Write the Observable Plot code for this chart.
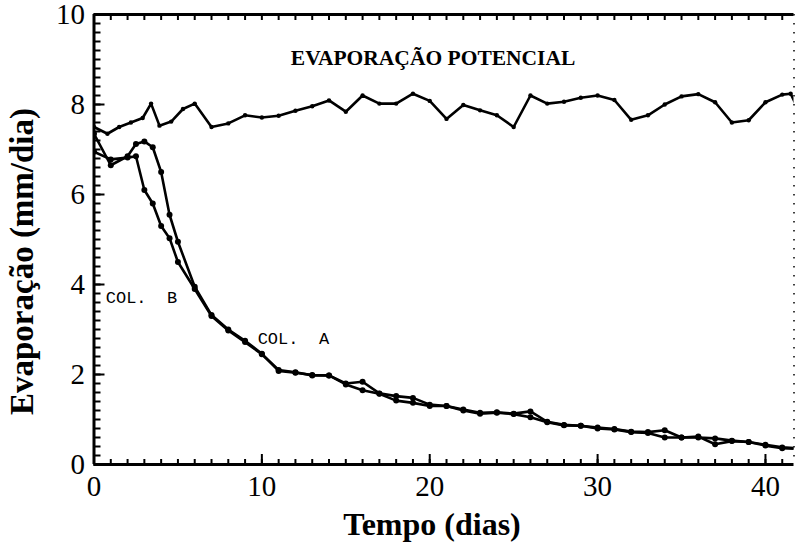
<!DOCTYPE html>
<html>
<head>
<meta charset="utf-8">
<script src="https://cdn.jsdelivr.net/npm/d3@7"></script>
<script src="https://cdn.jsdelivr.net/npm/@observablehq/plot@0.6"></script>
<style>
  body { margin: 0; background: #fff; }
  svg { display: block; }
</style>
</head>
<body>
<div id="chart"></div>
<script>
// Evaporação potencial (mm/dia) ao longo do tempo
const potDia  = [0, 0.8, 1.5, 2.2, 2.9, 3.4, 3.9, 4.6, 5.3, 6.0, 7.0, 8.0, 9.0, 10.0, 11.0, 12.0, 13.0, 14.0, 15.0, 16.0, 17.0, 18.0, 19.0, 20.0, 21.0, 22.0, 23.0, 24.0, 25.0, 26.0, 27.0, 28.0, 29.0, 30.0, 31.0, 32.0, 33.0, 34.0, 35.0, 36.0, 37.0, 38.0, 39.0, 40.0, 41.0, 41.5, 42.0];
const potEvap = [7.5, 7.35, 7.5, 7.6, 7.7, 8.02, 7.53, 7.62, 7.9, 8.02, 7.5, 7.58, 7.76, 7.71, 7.75, 7.86, 7.96, 8.09, 7.84, 8.2, 8.02, 8.02, 8.24, 8.08, 7.68, 7.99, 7.87, 7.76, 7.5, 8.2, 8.02, 8.06, 8.15, 8.2, 8.1, 7.66, 7.76, 8.0, 8.18, 8.23, 8.05, 7.6, 7.65, 8.05, 8.22, 8.24, 7.85];

// Coluna A
const colADia  = [0, 1, 2, 2.5, 3, 3.5, 4, 4.5, 5, 6, 7, 8, 9, 10, 11, 12, 13, 14, 15, 16, 17, 18, 19, 20, 21, 22, 23, 24, 25, 26, 27, 28, 29, 30, 31, 32, 33, 34, 35, 36, 37, 38, 39, 40, 41, 42];
const colAEvap = [7.35, 6.65, 6.85, 7.12, 7.18, 7.05, 6.5, 5.55, 4.95, 3.95, 3.32, 3.0, 2.75, 2.46, 2.08, 2.04, 1.99, 1.98, 1.8, 1.84, 1.58, 1.52, 1.48, 1.33, 1.3, 1.22, 1.15, 1.16, 1.13, 1.18, 0.95, 0.88, 0.86, 0.82, 0.79, 0.73, 0.72, 0.76, 0.6, 0.6, 0.58, 0.53, 0.5, 0.44, 0.38, 0.36];

// Coluna B
const colBDia  = [0, 1, 2, 2.5, 3, 3.5, 4, 4.5, 5, 6, 7, 8, 9, 10, 11, 12, 13, 14, 15, 16, 17, 18, 19, 20, 21, 22, 23, 24, 25, 26, 27, 28, 29, 30, 31, 32, 33, 34, 35, 36, 37, 38, 39, 40, 41, 42];
const colBEvap = [6.95, 6.78, 6.82, 6.85, 6.1, 5.8, 5.3, 5.03, 4.5, 3.9, 3.3, 2.98, 2.72, 2.45, 2.1, 2.05, 1.98, 1.98, 1.78, 1.65, 1.57, 1.42, 1.37, 1.3, 1.3, 1.2, 1.13, 1.15, 1.12, 1.05, 0.94, 0.87, 0.86, 0.8, 0.78, 0.72, 0.7, 0.6, 0.6, 0.62, 0.45, 0.52, 0.5, 0.42, 0.36, 0.35];

// Rótulos e marcas dos eixos
const xTickLabels = [0, 10, 20, 30, 40];
const yTickLabels = [0, 2, 4, 6, 8, 10];
const xMinorTicks = d3.range(0, 42, 1);
const yMinorTicks = d3.range(0, 50).map(i => i / 5);

const X_MAX = 41.7;
const Y_MAX = 10;
const SERIF = "Liberation Serif";
const PLOTTER = "Liberation Mono";

function draw() {
  const width = 795, height = 551;
  const margin = {left: 93.5, right: 1.5, top: 14, bottom: 87};
  // data units per pixel, so tick lengths can be given in pixels
  const ux = X_MAX / (width - margin.left - margin.right);
  const uy = Y_MAX / (height - margin.top - margin.bottom);

  const toRows = (serie, xs, ys) => xs.map((d, i) => ({serie, dia: d, evap: ys[i]}));
  const pot = toRows("Potencial", potDia, potEvap);
  const colA = toRows("COL. A", colADia, colAEvap);
  const colB = toRows("COL. B", colBDia, colBEvap);

  const tick = {stroke: "#000", strokeWidth: 2};
  const curveMarks = (rows, r) => [
    Plot.line(rows, {x: "dia", y: "evap", stroke: "#000", strokeWidth: 2.6, strokeLinejoin: "round", clip: true}),
    Plot.dot(rows, {x: "dia", y: "evap", r, fill: "#000", clip: true})
  ];

  return Plot.plot({
    width,
    height,
    marginLeft: margin.left,
    marginRight: margin.right,
    marginTop: margin.top,
    marginBottom: margin.bottom,
    x: {domain: [0, X_MAX], axis: null},
    y: {domain: [0, Y_MAX], axis: null},
    style: {background: "#fff", color: "#000"},
    marks: [
      // inward ticks: bottom (minor / major), top, left (minor / major)
      Plot.ruleX(xMinorTicks, {x: d => d, y1: 0, y2: 5 * uy, ...tick}),
      Plot.ruleX(xTickLabels, {x: d => d, y1: 0, y2: 10 * uy, ...tick}),
      Plot.ruleX(xMinorTicks, {x: d => d, y1: Y_MAX, y2: Y_MAX - 6 * uy, ...tick}),
      Plot.ruleY(yMinorTicks, {y: d => d, x1: 0, x2: 7 * ux, ...tick}),
      Plot.ruleY(yTickLabels, {y: d => d, x1: 0, x2: 11 * ux, ...tick}),
      // frame
      Plot.ruleX([0], {stroke: "#000", strokeWidth: 3}),
      Plot.ruleY([0], {stroke: "#000", strokeWidth: 3}),
      Plot.ruleY([Y_MAX], {stroke: "#000", strokeWidth: 3}),
      Plot.ruleX([X_MAX], {stroke: "#000", strokeWidth: 1.5, strokeDasharray: "1.5,7.5"}),
      // tick labels
      Plot.text(xTickLabels, {x: d => d, frameAnchor: "bottom", dy: 31, fontFamily: SERIF, fontSize: 29, fill: "#000"}),
      Plot.text(yTickLabels, {y: d => d, frameAnchor: "left", dx: -9, textAnchor: "end", fontFamily: SERIF, fontSize: 29, fill: "#000"}),
      // axis titles
      Plot.text(["Tempo (dias)"], {frameAnchor: "bottom", dx: -12, dy: 70, fontFamily: SERIF, fontSize: 32, fontWeight: "bold", fill: "#000"}),
      Plot.text(["Evaporação (mm/dia)"], {frameAnchor: "left", textAnchor: "middle", dx: -72, dy: 22, rotate: -90, fontFamily: SERIF, fontSize: 33, fontWeight: "bold", fill: "#000"}),
      // series
      ...curveMarks(pot, 2.2),
      ...curveMarks(colA, 3),
      ...curveMarks(colB, 3),
      // annotations
      Plot.text(["EVAPORAÇÃO POTENCIAL"], {x: 20.2, y: 9.02, fontFamily: SERIF, fontSize: 21.5, fontWeight: "bold", fill: "#000"}),
      Plot.text(["COL.  B"], {x: 0.7, y: 3.72, textAnchor: "start", fontFamily: PLOTTER, fontSize: 17, fill: "#000"}),
      Plot.text(["COL.  A"], {x: 9.75, y: 2.8, textAnchor: "start", fontFamily: PLOTTER, fontSize: 17, fill: "#000"})
    ]
  });
}

document.getElementById("chart").append(draw());
</script>
</body>
</html>
